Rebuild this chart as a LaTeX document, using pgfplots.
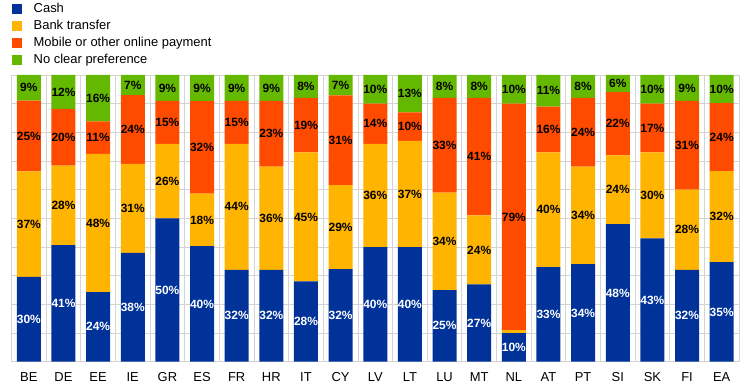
\documentclass[border=0pt]{standalone}
\usepackage{fontspec}
\setmainfont{Liberation Sans}
\usepackage{pgfplots}
\usepackage{pgfplotstable}
\pgfplotsset{compat=1.18}
\definecolor{cashc}{HTML}{003299}
\definecolor{bankc}{HTML}{FFB400}
\definecolor{mobc}{HTML}{FF4B00}
\definecolor{nonec}{HTML}{65B800}
\definecolor{gridc}{HTML}{D4D4D4}
\pgfplotstableread{
x cash bank mobile none
0 29.6 36.8 24.7 8.9
1 40.7 27.7 19.8 11.8
2 24.3 48.2 11.3 16.2
3 38 31 24 7
4 50 26 15 9
5 40.3 18.3 32.3 9.1
6 32 44 15 9
7 32 36 23 9
8 28 45 19 8
9 32.3 29.3 31.3 7.1
10 40 36 14 10
11 40 37 10 13
12 25 34 33 8
13 27 24 41 8
14 10 1 79 10
15 33 40 16 11
16 34 34 24 8
17 48 24 22 6
18 43 30 17 10
19 32 28 31 9
20 34.7 31.8 23.7 9.8
}\datatable
\begin{document}
\begin{tikzpicture}
\useasboundingbox (0,0) rectangle (744bp,389bp);
\begin{axis}[
  at={(11.5bp,27.3bp)}, anchor=south west,
  scale only axis, width=727.5bp, height=286.7bp,
  ybar stacked, bar width=24bp,
  xmin=-0.5, xmax=20.5, ymin=0, ymax=100,
  xtick={0,...,20},
  xticklabels={BE,DE,EE,IE,GR,ES,FR,HR,IT,CY,LV,LT,LU,MT,NL,AT,PT,SI,SK,FI,EA},
  minor x tick num=1,
  xmajorgrids=false, xminorgrids=true, ymajorgrids=true,
  ytick={0,10,...,100}, yticklabels={},
  major tick length=0pt, minor tick length=0pt,
  grid style={gridc, line width=0.8pt},
  minor grid style={gridc, line width=0.8pt},
  axis line style={gridc, line width=0.8pt},
  xticklabel style={font=\fontsize{13}{13}\selectfont, text=black, yshift=-7bp},
  /pgf/number format/assume math mode=true,
  clip=true,
  nodes near coords={\pgfmathfloattofixed{\pgfplotspointmeta}\ifdim\pgfmathresult pt<3pt\relax\else\pgfmathprintnumber[fixed,precision=0,assume math mode=true]{\pgfplotspointmeta}\%\fi},
  every node near coord/.append style={anchor=center, font=\fontsize{12}{12}\selectfont\bfseries, inner sep=0pt},
  every axis plot post/.append style={legend image code/.code={\fill[##1] (0bp,-5bp) rectangle (10bp,5bp);}},
  legend style={at={(rel axis cs:0,1)}, anchor=north west, yshift=72.5bp, xshift=0bp,
    draw=none, fill=none, inner sep=0pt, column sep=12bp, row sep=4bp,
    font=\fontsize{13}{13}\selectfont,
    nodes={inner sep=0pt, text height=10bp, text depth=3bp}},
  legend cell align=left,
]
\addplot[fill=cashc, draw=none, every node near coord/.append style={text=white}] table[x=x, y=cash] {\datatable};
\addplot[fill=bankc, draw=none, every node near coord/.append style={text=black}] table[x=x, y=bank] {\datatable};
\addplot[fill=mobc, draw=none, every node near coord/.append style={text=black}] table[x=x, y=mobile] {\datatable};
\addplot[fill=nonec, draw=none, every node near coord/.append style={text=black}] table[x=x, y=none] {\datatable};
\legend{Cash, Bank transfer, Mobile or other online payment, No clear preference}
\end{axis}
\end{tikzpicture}
\end{document}
